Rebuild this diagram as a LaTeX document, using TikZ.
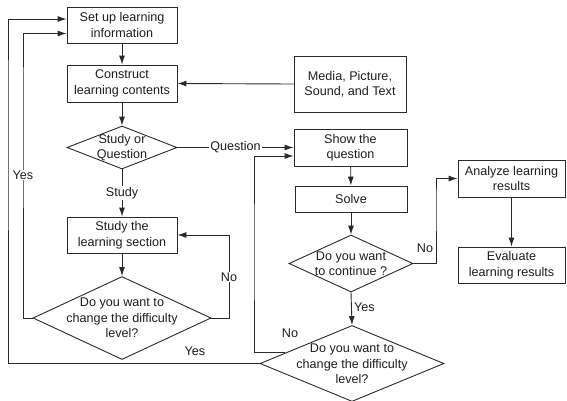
\documentclass[tikz,border=0pt]{standalone}
\usepackage{fontspec}
\setmainfont{Liberation Sans}
\usetikzlibrary{shapes.geometric,arrows.meta,calc}
\definecolor{ln}{HTML}{2A2A2A}
\definecolor{tx}{HTML}{1E1E1E}
\begin{document}
\begin{tikzpicture}[x=1pt,y=-1pt,
  box/.style={draw=ln,line width=0.9pt,rectangle,inner sep=0pt,align=center,text=tx,
    font=\fontsize{12.6}{15.5}\selectfont},
  dia/.style={draw=ln,line width=0.9pt,diamond,inner sep=0pt},
  txt/.style={align=center,text=tx,inner sep=0pt,font=\fontsize{12.6}{15.5}\selectfont},
  lbl/.style={text=tx,inner sep=1pt,fill=white,font=\fontsize{12.6}{15.5}\selectfont},
  conn/.style={draw=ln,line width=0.9pt},
  arr/.style={conn,-{Latex[length=9pt,width=6pt]}}
]
\useasboundingbox (0,0) rectangle (567,400);
% boxes
\node[box,minimum width=110pt,minimum height=36pt] (setup) at (122,25) {Set up learning\\information};
\node[box,minimum width=110pt,minimum height=37pt] (construct) at (122,83.5) {Construct\\learning contents};
\node[box,minimum width=110pt,minimum height=36pt] (study) at (122,235) {Study the\\learning section};
\node[box,minimum width=112pt,minimum height=56pt] (media) at (350,84) {Media, Picture,\\Sound, and Text};
\node[box,minimum width=113pt,minimum height=37pt] (show) at (350.5,147.5) {Show the\\question};
\node[box,minimum width=112pt,minimum height=26pt] (solve) at (351,199) {Solve};
\node[box,minimum width=107pt,minimum height=37pt] (analyze) at (511.5,178.5) {Analyze learning\\results};
\node[box,minimum width=107pt,minimum height=36pt] (evaluate) at (511.5,265) {Evaluate\\learning results};
% diamonds
\node[dia,minimum width=110pt,minimum height=43pt] (d1) at (122,147.5) {};
\node[txt] (d1t) at (d1) {Study or\\Question};
\node[dia,minimum width=178pt,minimum height=83pt] (d2) at (122,318) {};
\node[txt] (d2t) at (d2) {Do you want to\\change the difficulty\\level?};
\node[dia,minimum width=124pt,minimum height=57pt] (d3) at (351,263.5) {};
\node[txt] (d3t) at (d3) {Do you want\\to continue ?};
\node[dia,minimum width=184pt,minimum height=76pt] (d4) at (352,363.5) {};
\node[txt] (d4t) at (352,364) {Do you want to\\change the difficulty\\level?};
% helper coordinates
\coordinate (inOuter) at ($(setup.west)+(0,-6)$);
\coordinate (inInner) at ($(setup.west)+(0,8.5)$);
\coordinate (shIn2) at ($(show.west)+(0,8.5)$);
\coordinate (d4no) at ($(d4.west)!0.28!(d4.north)$);
% connectors
\draw[arr] (setup) -- (construct);
\draw[arr] (media.west) -- (construct.east);
\draw[arr] (construct) -- (d1);
\draw[arr] (d1.east) -- node[lbl,pos=0.5] (lq) {Question} (show.west);
\draw[arr] (d1.south) -- node[lbl,pos=0.5] (ls) {Study} (study.north);
\draw[arr] (study) -- (d2);
\draw[arr] (d2.east) -- ++(18,0) |- (study.east);
\node[lbl] (ln2) at (229,277) {No};
\draw[arr] (d2.west) -| (23,100) |- (inInner);
\node[lbl] (ly1) at (23,175) {Yes};
\draw[arr] (d4.west) -| (8,100) |- (inOuter);
\node[txt] (ly2) at (195,351) {Yes};
\draw[arr] (show) -- (solve);
\draw[arr] (solve) -- (d3);
\draw[arr] (d3.east) -| (436,200) |- (analyze.west);
\node[txt] (ln3) at (425,248) {No};
\draw[arr] (analyze) -- (evaluate);
\draw[arr] (d3.south) -- (d4.north);
\node[txt,anchor=west] (ly3) at (354,307) {Yes};
\draw[arr] (d4no) -| (254,250) |- (shIn2);
\node[txt] (ln4) at (290,333) {No};
\end{tikzpicture}
\end{document}
